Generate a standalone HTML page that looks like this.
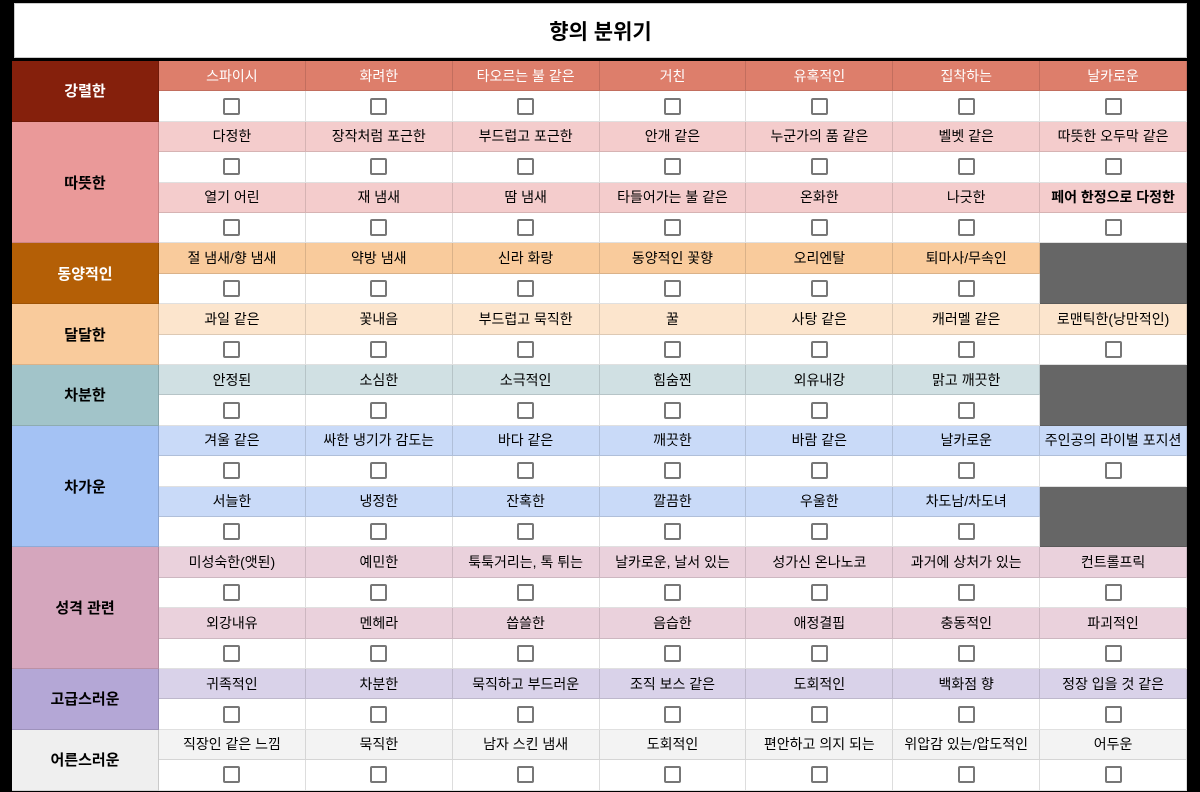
<!DOCTYPE html>
<html><head><meta charset="utf-8">
<style>
body{margin:0;width:1200px;height:792px;background:#000;overflow:hidden;font-family:"Liberation Sans","Noto Sans CJK KR",sans-serif;position:relative}
#title{position:absolute;left:14px;top:3px;width:1173px;height:55px;background:#fff;display:flex;align-items:center;justify-content:center;font-size:21px;font-weight:bold;color:#000;box-sizing:border-box;border:1px solid #ccc}
.c{position:absolute;box-sizing:border-box;display:flex;align-items:center;justify-content:center;font-size:14px;color:#000;white-space:nowrap;border-right:1px solid rgba(0,0,0,0.12);border-bottom:1px solid rgba(0,0,0,0.12)}
.lab{font-weight:bold;font-size:15px;border-right:1px solid rgba(0,0,0,0.15)}
.cb{width:17px;height:17px;border:2px solid #777;border-radius:2px;box-sizing:border-box;background:#fff}
</style></head><body>
<div id="title">향의 분위기</div>
<div id="grid"></div>
<script>
const groups=[
 {name:"강렬한",lab:"#85200c",labc:"#fff",cell:"#dd7e6b",cellc:"#fff",rows:[["스파이시","화려한","타오르는 불 같은","거친","유혹적인","집착하는","날카로운"]]},
 {name:"따뜻한",lab:"#ea9999",labc:"#000",cell:"#f4cccc",cellc:"#000",rows:[["다정한","장작처럼 포근한","부드럽고 포근한","안개 같은","누군가의 품 같은","벨벳 같은","따뜻한 오두막 같은"],["열기 어린","재 냄새","땀 냄새","타들어가는 불 같은","온화한","나긋한","페어 한정으로 다정한"]]},
 {name:"동양적인",lab:"#b45f06",labc:"#fff",cell:"#f9cb9c",cellc:"#000",rows:[["절 냄새/향 냄새","약방 냄새","신라 화랑","동양적인 꽃향","오리엔탈","퇴마사/무속인",null]]},
 {name:"달달한",lab:"#f9cb9c",labc:"#000",cell:"#fce5cd",cellc:"#000",rows:[["과일 같은","꽃내음","부드럽고 묵직한","꿀","사탕 같은","캐러멜 같은","로맨틱한(낭만적인)"]]},
 {name:"차분한",lab:"#a2c4c9",labc:"#000",cell:"#d0e0e3",cellc:"#000",rows:[["안정된","소심한","소극적인","힘숨찐","외유내강","맑고 깨끗한",null]]},
 {name:"차가운",lab:"#a4c2f4",labc:"#000",cell:"#c9daf8",cellc:"#000",rows:[["겨울 같은","싸한 냉기가 감도는","바다 같은","깨끗한","바람 같은","날카로운","주인공의 라이벌 포지션"],["서늘한","냉정한","잔혹한","깔끔한","우울한","차도남/차도녀",null]]},
 {name:"성격 관련",lab:"#d5a6bd",labc:"#000",cell:"#ead1dc",cellc:"#000",rows:[["미성숙한(앳된)","예민한","툭툭거리는, 톡 튀는","날카로운, 날서 있는","성가신 온나노코","과거에 상처가 있는","컨트롤프릭"],["외강내유","멘헤라","씁쓸한","음습한","애정결핍","충동적인","파괴적인"]]},
 {name:"고급스러운",lab:"#b4a7d6",labc:"#000",cell:"#d9d2e9",cellc:"#000",rows:[["귀족적인","차분한","묵직하고 부드러운","조직 보스 같은","도회적인","백화점 향","정장 입을 것 같은"]]},
 {name:"어른스러운",lab:"#efefef",labc:"#000",cell:"#f3f3f3",cellc:"#000",rows:[["직장인 같은 느낌","묵직한","남자 스킨 냄새","도회적인","편안하고 의지 되는","위압감 있는/압도적인","어두운"]]}
];
const grid=document.getElementById('grid');
const top0=61,rh=30.4,lx=12,lw=147,cx=159,cw=(1187-159)/7;
function mk(x,y,w,h,bg){const d=document.createElement('div');d.className='c';d.style.left=x+'px';d.style.top=y+'px';d.style.width=w+'px';d.style.height=h+'px';d.style.background=bg;grid.appendChild(d);return d;}
let r=0;
groups.forEach((g,gi)=>{
 const n=g.rows.length*2;
 const L=mk(lx,top0+r*rh,lw,n*rh,g.lab);
 L.classList.add('lab');L.style.color=g.labc;L.textContent=g.name;
 
 
 g.rows.forEach((row,ri)=>{
  row.forEach((t,ci)=>{
   const x=cx+ci*cw;
   if(t===null){
    const d=mk(x,top0+r*rh,cw,2*rh,'#666666');
    
    
    return;
   }
   const h=mk(x,top0+r*rh,cw,rh,g.cell);
   h.style.color=g.cellc;h.textContent=t;
   if(t==="페어 한정으로 다정한")h.style.fontWeight='bold';
   
   
   const b=mk(x,top0+(r+1)*rh,cw,rh,'#fff');
   b.style.borderRight='1px solid #ddd';
   
   
   const cb=document.createElement('div');cb.className='cb';
   
   
   b.appendChild(cb);
  });
  r+=2;
 });
});
</script>
</body></html>
